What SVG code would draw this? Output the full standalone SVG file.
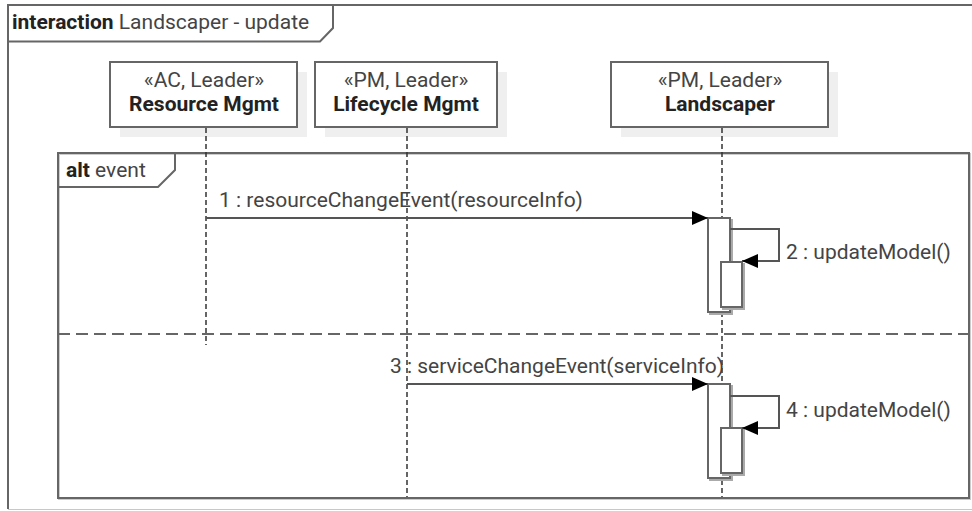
<svg xmlns="http://www.w3.org/2000/svg" width="972" height="511" viewBox="0 0 972 511">
<defs>
<style>
text{font-family:Roboto,"Liberation Sans",Arial,sans-serif;font-size:21px;fill:#444}
.b{font-weight:bold;fill:#222}
.frame{fill:none;stroke:#666;stroke-width:2}
.box{fill:#fff;stroke:#666;stroke-width:2}
.shadow{fill:#efefef;stroke:none}
.ashadow{fill:none;stroke:#aaa;stroke-width:2}
.life{stroke:#333;stroke-width:1.5;stroke-dasharray:5 3;fill:none}
.msg{stroke:#555;stroke-width:2;fill:none}
</style>
<marker id="ah" viewBox="0 0 16 14" refX="16" refY="7" markerWidth="16" markerHeight="14" markerUnits="userSpaceOnUse" orient="auto">
<path d="M0,0 L16,7 L0,14 Z" fill="#000"/>
</marker>
</defs>
<rect width="972" height="511" fill="#fff"/>
<g id="frame">
<path d="M990,5 H8 V509" class="frame"/>
<line x1="8" y1="509.5" x2="972" y2="509.5" stroke="#c8c8c8" stroke-width="1"/>
<path d="M8,5 H333 V28 L320,41.5 H8" class="frame" fill="#fff"/>
<text x="12" y="29"><tspan class="b">interaction</tspan> Landscaper - update</text>
</g>
<g id="alt">
<rect x="59" y="154" width="911" height="345" fill="none" stroke="#ccc" stroke-width="2"/>
<rect x="58" y="153" width="911" height="345" class="frame"/>
<path d="M58,153 H175 V170 L158,187 H58" class="frame"/>
<text x="66" y="177"><tspan class="b">alt</tspan> event</text>
<line x1="58" y1="334" x2="969" y2="334" stroke="#666" stroke-width="2" stroke-dasharray="12 6"/>
</g>
<g id="resourceMgmt">
<rect x="120" y="72" width="187" height="65" class="shadow"/>
<rect x="110" y="62" width="187" height="65" class="box"/>
<text x="204" y="87" text-anchor="middle">«AC, Leader»</text>
<text x="204" y="111" text-anchor="middle" class="b">Resource Mgmt</text>
<line x1="206" y1="128" x2="206" y2="345" class="life"/>
</g>
<g id="lifecycleMgmt">
<rect x="325" y="72" width="182" height="65" class="shadow"/>
<rect x="315" y="62" width="182" height="65" class="box"/>
<text x="406" y="87" text-anchor="middle">«PM, Leader»</text>
<text x="406" y="111" text-anchor="middle" class="b">Lifecycle Mgmt</text>
<line x1="407" y1="128" x2="407" y2="497" class="life"/>
</g>
<g id="landscaper">
<rect x="621" y="72" width="217" height="65" class="shadow"/>
<rect x="611" y="62" width="217" height="65" class="box"/>
<text x="720" y="87" text-anchor="middle">«PM, Leader»</text>
<text x="720" y="111" text-anchor="middle" class="b">Landscaper</text>
<line x1="722" y1="128" x2="722" y2="497" class="life"/>
</g>
<g id="activations">
<rect x="710" y="220" width="22" height="94" class="ashadow"/>
<rect x="708" y="218" width="22" height="94" class="box"/>
<rect x="723" y="264" width="21" height="45" class="ashadow"/>
<rect x="721" y="262" width="21" height="45" class="box"/>
<rect x="710" y="386" width="22" height="94" class="ashadow"/>
<rect x="708" y="384" width="22" height="94" class="box"/>
<rect x="723" y="430" width="21" height="45" class="ashadow"/>
<rect x="721" y="428" width="21" height="45" class="box"/>
</g>
<g id="connectors">
<line x1="206" y1="218" x2="708" y2="218" class="msg" marker-end="url(#ah)"/>
<text x="401" y="207" text-anchor="middle">1 : resourceChangeEvent(resourceInfo)</text>
<polyline points="730,229 779,229 779,261 742,261" class="msg" marker-end="url(#ah)"/>
<text x="786" y="259">2 : updateModel()</text>
<line x1="407" y1="384" x2="708" y2="384" class="msg" marker-end="url(#ah)"/>
<text x="557" y="373" text-anchor="middle">3 : serviceChangeEvent(serviceInfo)</text>
<polyline points="730,396 779,396 779,428 742,428" class="msg" marker-end="url(#ah)"/>
<text x="786" y="417">4 : updateModel()</text>
</g>
</svg>
